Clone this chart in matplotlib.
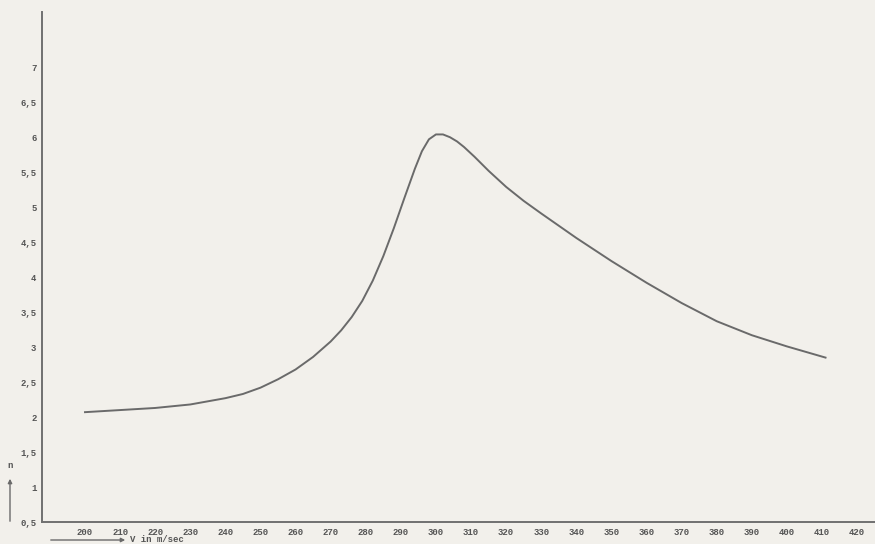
import matplotlib
matplotlib.use("Agg")
import matplotlib.pyplot as plt

# speed V (m/sec) and n
speed = [200, 210, 220, 230, 240, 245, 250, 255, 260, 265, 270, 273, 276,
         279, 282, 285, 288, 291, 294, 296, 298, 300, 302, 304, 306, 308,
         311, 315, 320, 325, 330, 340, 350, 360, 370, 380, 390, 400, 411]
n_val = [2.07, 2.10, 2.13, 2.18, 2.27, 2.33, 2.42, 2.54, 2.68, 2.86, 3.08,
         3.24, 3.43, 3.66, 3.95, 4.30, 4.70, 5.13, 5.55, 5.80, 5.97, 6.04,
         6.04, 6.00, 5.94, 5.86, 5.72, 5.52, 5.29, 5.09, 4.91, 4.56, 4.23,
         3.92, 3.63, 3.37, 3.17, 3.01, 2.85]

x_ticks = list(range(200, 430, 10))
y_ticks = [0.5, 1, 1.5, 2, 2.5, 3, 3.5, 4, 4.5, 5, 5.5, 6, 6.5, 7]
y_labels = ["0,5", "1", "1,5", "2", "2,5", "3", "3,5", "4", "4,5", "5",
            "5,5", "6", "6,5", "7"]

paper = "#f2f0eb"
ink = "#6a6a6a"
text_col = "#555555"
mono = "Liberation Mono"

fig = plt.figure(figsize=(8.75, 5.44), dpi=100, facecolor=paper)
ax = fig.add_axes([42 / 875, 22 / 544, 1 - 42 / 875, 510 / 544])
ax.set_facecolor(paper)

ax.plot(speed, n_val, color=ink, lw=1.4, solid_joinstyle="round")

ax.set_xlim(187.75, 425.1)
ax.set_ylim(0.5, 7.79)

for side in ("top", "right"):
    ax.spines[side].set_visible(False)
for side in ("left", "bottom"):
    ax.spines[side].set_color("#707070")
    ax.spines[side].set_linewidth(1.4)

ax.set_xticks(x_ticks)
ax.set_xticklabels([str(v) for v in x_ticks])
ax.set_yticks(y_ticks)
ax.set_yticklabels(y_labels)
ax.tick_params(length=0, colors=text_col, labelsize=6.5)
ax.tick_params(axis="x", pad=4)
ax.tick_params(axis="y", pad=4)
for lab in ax.get_xticklabels() + ax.get_yticklabels():
    lab.set_family(mono)
    lab.set_weight("bold")

# axis legends drawn as arrows below / left of the frame
fig.add_artist(matplotlib.patches.FancyArrowPatch(
    (48 / 875, 4 / 544), (128 / 875, 4 / 544), transform=fig.transFigure,
    arrowstyle="-|>", mutation_scale=6, color=ink, lw=1.0))
fig.text(130 / 875, 4 / 544, "V in m/sec", family=mono, weight="bold",
         size=6.5, color=text_col, va="center", ha="left")

fig.add_artist(matplotlib.patches.FancyArrowPatch(
    (10 / 875, 20 / 544), (10 / 875, 68 / 544), transform=fig.transFigure,
    arrowstyle="-|>", mutation_scale=6, color=ink, lw=1.0))
fig.text(10 / 875, 74 / 544, "n", family=mono, weight="bold",
         size=6.5, color=text_col, va="bottom", ha="center")

fig.savefig("out.png", dpi=100, facecolor=paper)
